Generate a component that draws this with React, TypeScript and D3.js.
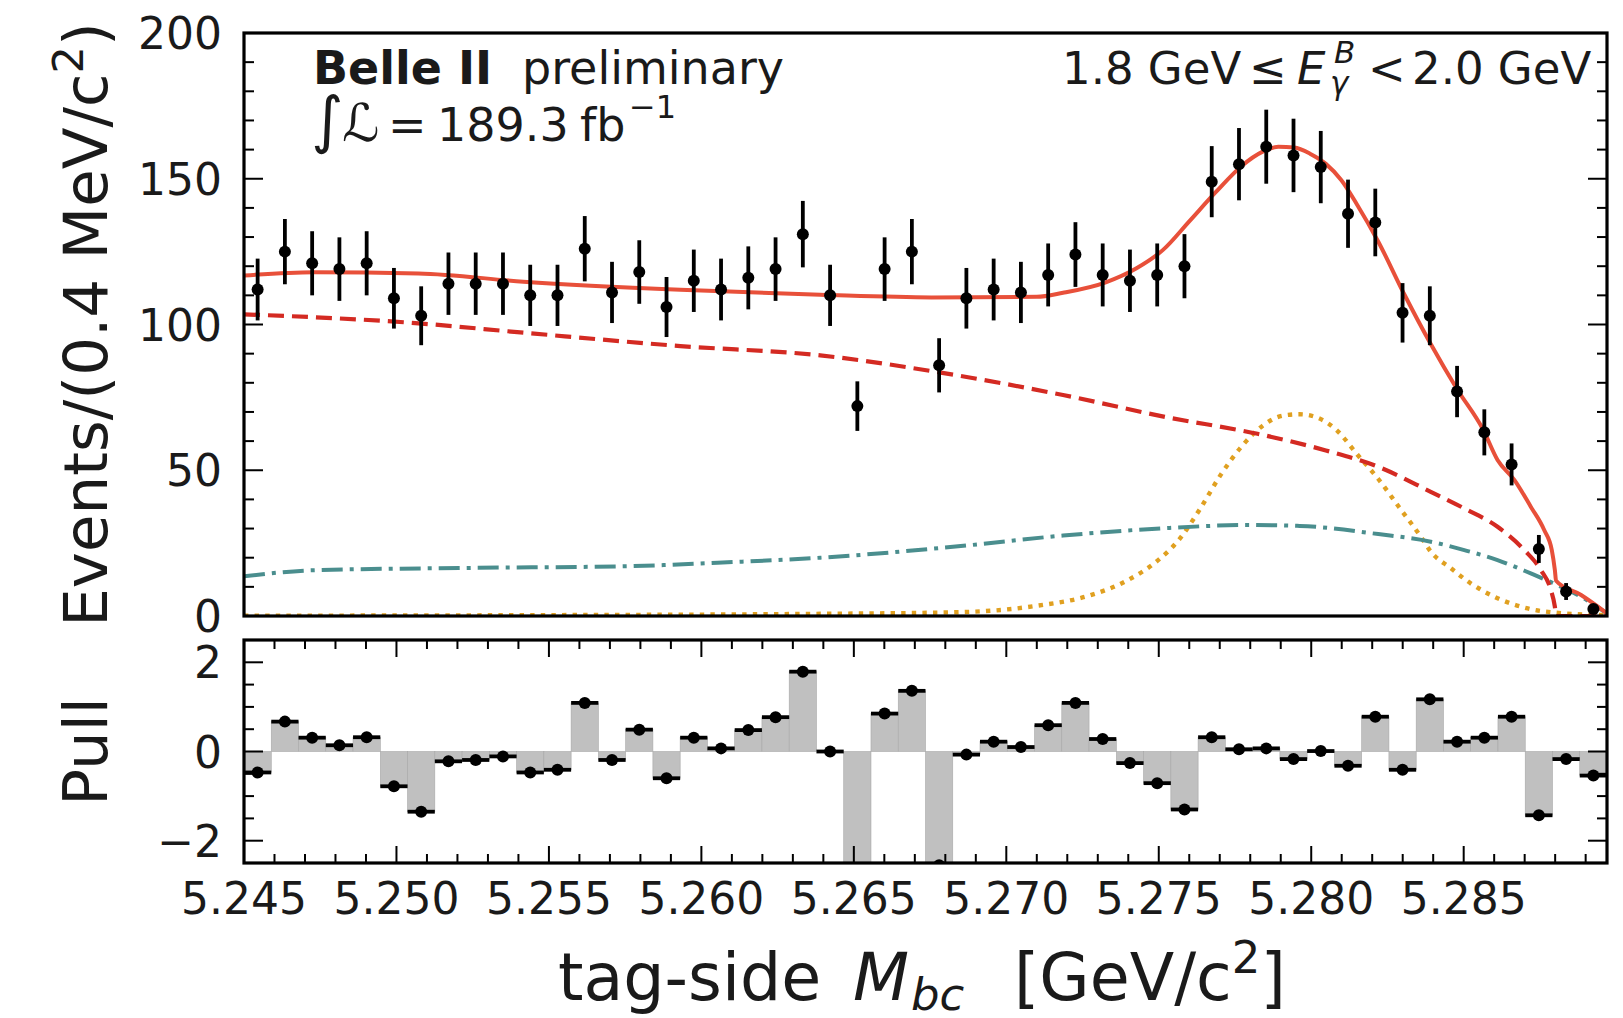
import React from 'react';
import * as d3 from 'd3';

// ---------------- data ----------------
const X_DOMAIN: [number, number] = [5.245, 5.2897];
const N_BINS = 50;

const counts = [
  112, 125, 121, 119, 121, 109, 103, 114, 114, 114,
  110, 110, 126, 111, 118, 106, 115, 112, 116, 119,
  131, 110, 72, 119, 125, 86, 109, 112, 111, 117,
  124, 117, 115, 117, 120, 149, 155, 161, 158, 154,
  138, 135, 104, 103, 77, 63, 52, 23, 8.4, 2.4,
];

const errors = [
  10.6, 11.2, 11.0, 10.9, 11.0, 10.4, 10.1, 10.7, 10.7, 10.7,
  10.5, 10.5, 11.2, 10.5, 10.9, 10.3, 10.7, 10.6, 10.8, 10.9,
  11.4, 10.5, 8.5, 10.9, 11.2, 9.3, 10.4, 10.6, 10.5, 10.8,
  11.1, 10.8, 10.7, 10.8, 11.0, 12.2, 12.4, 12.7, 12.6, 12.4,
  11.7, 11.6, 10.2, 10.1, 8.8, 7.9, 7.2, 4.8, 2.9, 1.5,
];

const pulls = [
  -0.47, 0.67, 0.31, 0.14, 0.32, -0.78, -1.35, -0.22, -0.19, -0.11,
  -0.47, -0.41, 1.09, -0.19, 0.49, -0.6, 0.31, 0.07, 0.48, 0.77,
  1.79, 0.0, -4.4, 0.85, 1.36, -2.55, -0.07, 0.22, 0.1, 0.59,
  1.09, 0.28, -0.26, -0.71, -1.3, 0.32, 0.05, 0.07, -0.17, 0.01,
  -0.32, 0.78, -0.41, 1.17, 0.22, 0.31, 0.78, -1.43, -0.17, -0.54,
];

// total fit (solid)
const totalX = [
  5.245, 5.24729, 5.25072, 5.25416, 5.25931, 5.2639, 5.26755, 5.271, 5.27186,
  5.27324, 5.27427, 5.27514, 5.276, 5.27686, 5.27772, 5.27841, 5.27892, 5.27944,
  5.27996, 5.28048, 5.28099, 5.28151, 5.2822, 5.28306, 5.28392, 5.28478, 5.28564,
  5.28611, 5.28666, 5.2872, 5.28764, 5.28789, 5.28799, 5.28803, 5.28885, 5.2897,
];
const totalY = [
  116.8, 117.9, 117.5, 114.7, 111.9, 110.2, 109.3, 109.5, 110.9,
  114.4, 119.3, 125.6, 135.4, 145.3, 154.4, 159.3, 161.0, 160.7,
  158.6, 155.1, 149.5, 141.0, 128.4, 110.2, 93.3, 77.9, 63.9,
  53.5, 46.7, 37.5, 29.5, 22.6, 15.8, 12.1, 7.2, 0.9,
];

// combinatorial background (dashed)
const bkgX = [
  5.245, 5.25072, 5.25416, 5.25931, 5.2639, 5.26785, 5.27186, 5.27531, 5.27824,
  5.28048, 5.2822, 5.28392, 5.28502, 5.28611, 5.28699, 5.28753, 5.28786, 5.28799,
  5.28803, 5.2897,
];
const bkgY = [
  103.5, 100.4, 97.2, 92.6, 89.4, 83.5, 75.8, 68.1, 62.5,
  56.8, 51.2, 42.6, 36.9, 30.6, 22.6, 15.8, 8.9, 3.2,
  0, 0,
];

// peaking background (dash-dot)
const peakBkgX = [
  5.245, 5.24729, 5.25244, 5.25759, 5.26102, 5.2639, 5.26842, 5.27186, 5.27531,
  5.27789, 5.27962, 5.2822, 5.28392, 5.28502, 5.28611, 5.2872, 5.28808, 5.28885,
  5.2897,
];
const peakBkgY = [
  13.6, 15.7, 16.5, 17.1, 18.5, 20.0, 23.9, 27.6, 30.2,
  31.2, 30.9, 28.1, 25.5, 22.6, 19.2, 14.6, 10.6, 6.6,
  0.9,
];

// signal (dotted)
const signalX = [
  5.245, 5.255, 5.26325, 5.26842, 5.271, 5.27272, 5.27393, 5.27496, 5.27565,
  5.27634, 5.27703, 5.27772, 5.27841, 5.2791, 5.27962, 5.28021, 5.28082, 5.28151,
  5.2822, 5.28289, 5.28358, 5.28392, 5.28458, 5.28523, 5.28611, 5.2871, 5.2883,
  5.2897,
];
const signalY = [
  0.1, 0.3, 0.7, 1.3, 3.5, 7.0, 12.0, 19.0, 26.0,
  36.5, 48.4, 58.2, 65.3, 68.8, 69.2, 68.0, 63.9, 55.4,
  47.0, 37.2, 27.4, 22.1, 16.4, 11.2, 6.1, 2.6, 0.9,
  0.3,
];

const xTickValues = [5.245, 5.25, 5.255, 5.26, 5.265, 5.27, 5.275, 5.28, 5.285];
const xTickLabels = ['5.245', '5.250', '5.255', '5.260', '5.265', '5.270', '5.275', '5.280', '5.285'];
const yMainTicks = [0, 50, 100, 150, 200];
const yMainLabels = ['0', '50', '100', '150', '200'];
const yPullTicks = [-2, 0, 2];
const yPullLabels = ['\u22122', '0', '2'];

// ---------------- styles ----------------
const FONT = 'DejaVu Sans, sans-serif';
const C_TOTAL = '#e8503a';
const C_BKG = '#d42a22';
const C_PEAK = '#4a8e8e';
const C_SIG = '#e0a020';
const C_PULL = '#c0c0c0';

export default function App() {
  const W = 1623;
  const H = 1018;
  const L = 244;
  const R = 1607;
  const T1 = 33;
  const B1 = 616;
  const T2 = 640;
  const B2 = 863;

  const x = d3.scaleLinear().domain(X_DOMAIN).range([L, R]);
  const y = d3.scaleLinear().domain([0, 200]).range([B1, T1]);
  const yp = d3.scaleLinear().domain([-2.5, 2.5]).range([B2, T2]);

  const binW = (X_DOMAIN[1] - X_DOMAIN[0]) / N_BINS;
  const centers = counts.map((_, i) => X_DOMAIN[0] + (i + 0.5) * binW);

  const mk = (xs: number[], ys: number[]) =>
    d3
      .line<number>()
      .x((_, i) => x(xs[i]))
      .y((_, i) => y(ys[i]))
      .curve(d3.curveMonotoneX)(xs) || '';

  const minorMainY = d3.range(0, 201, 10);
  const minorPullY = d3.range(-2.5, 2.51, 0.5);
  const minorPullX = d3.range(0, 45).map((i) => X_DOMAIN[0] + i * 0.001).filter((v) => v <= X_DOMAIN[1]);

  const tickW = 2;
  const majLen = 19;
  const minLen = 10;
  const TXT = '#1a1a1a';

  return (
    <svg
      width={W}
      height={H}
      style={{ position: 'absolute', left: 0, top: 0, display: 'block', background: '#fff' }}
      fontFamily={FONT}
    >
      <defs>
        <clipPath id="clipMain">
          <rect x={L} y={T1} width={R - L} height={B1 - T1} />
        </clipPath>
        <clipPath id="clipPull">
          <rect x={L} y={T2} width={R - L} height={B2 - T2} />
        </clipPath>
      </defs>
      <rect x={0} y={0} width={W} height={H} fill="#fff" />

      {/* ---------- main panel ---------- */}
      <g clipPath="url(#clipMain)">
        <path d={mk(signalX, signalY)} fill="none" stroke={C_SIG} strokeWidth={4.4} strokeDasharray="4.4 6.2" />
        <path d={mk(peakBkgX, peakBkgY)} fill="none" stroke={C_PEAK} strokeWidth={4} strokeDasharray="21 7 4 7" />
        <path d={mk(bkgX, bkgY)} fill="none" stroke={C_BKG} strokeWidth={4.2} strokeDasharray="16 8" />
        <path d={mk(totalX, totalY)} fill="none" stroke={C_TOTAL} strokeWidth={4} />
        {counts.map((c, i) => (
          <g key={i}>
            <line
              x1={x(centers[i])}
              x2={x(centers[i])}
              y1={y(c - errors[i])}
              y2={y(c + errors[i])}
              stroke="#000"
              strokeWidth={3.8}
            />
            <circle cx={x(centers[i])} cy={y(c)} r={6} fill="#000" />
          </g>
        ))}
      </g>

      {/* main y ticks */}
      {minorMainY.map((v) => {
        const major = v % 50 === 0;
        const len = major ? majLen : minLen;
        return (
          <g key={'my' + v}>
            <line x1={L} x2={L + len} y1={y(v)} y2={y(v)} stroke="#000" strokeWidth={tickW} />
            <line x1={R} x2={R - len} y1={y(v)} y2={y(v)} stroke="#000" strokeWidth={tickW} />
          </g>
        );
      })}
      {yMainTicks.map((v, i) => (
        <text key={'myl' + v} x={222} y={y(v) + 16} fontSize={44} textAnchor="end" fill={TXT}>
          {yMainLabels[i]}
        </text>
      ))}
      <rect x={L} y={T1} width={R - L} height={B1 - T1} fill="none" stroke="#000" strokeWidth={3.2} />

      {/* ---------- pull panel ---------- */}
      <g clipPath="url(#clipPull)">
        {pulls.map((p, i) => {
          const x0 = x(centers[i] - binW / 2);
          const x1 = x(centers[i] + binW / 2);
          return (
            <rect
              key={'pb' + i}
              x={x0}
              y={Math.min(yp(p), yp(0))}
              width={x1 - x0}
              height={Math.abs(yp(p) - yp(0))}
              fill={C_PULL}
              stroke="#a8a8a8"
              strokeWidth={0.6}
            />
          );
        })}
        {pulls.map((p, i) => {
          const x0 = x(centers[i] - binW / 2);
          const x1 = x(centers[i] + binW / 2);
          return (
            <g key={'pp' + i}>
              <line x1={x0} x2={x1} y1={yp(p)} y2={yp(p)} stroke="#000" strokeWidth={3.8} />
              <circle cx={x(centers[i])} cy={yp(p)} r={6} fill="#000" />
            </g>
          );
        })}
      </g>

      {/* pull y ticks */}
      {minorPullY.map((v) => {
        const major = Math.abs(v % 2) < 1e-9;
        const len = major ? majLen : minLen;
        return (
          <g key={'py' + v}>
            <line x1={L} x2={L + len} y1={yp(v)} y2={yp(v)} stroke="#000" strokeWidth={tickW} />
            <line x1={R} x2={R - len} y1={yp(v)} y2={yp(v)} stroke="#000" strokeWidth={tickW} />
          </g>
        );
      })}
      {/* pull x ticks */}
      {minorPullX.map((v, i) => {
        const major = i % 5 === 0;
        const len = major ? 17 : 9;
        return (
          <g key={'px' + i}>
            <line x1={x(v)} x2={x(v)} y1={T2} y2={T2 + len} stroke="#000" strokeWidth={tickW} />
            <line x1={x(v)} x2={x(v)} y1={B2} y2={B2 - len} stroke="#000" strokeWidth={tickW} />
          </g>
        );
      })}
      {yPullTicks.map((v, i) => (
        <text key={'pyl' + v} x={222} y={yp(v) + 16} fontSize={44} textAnchor="end" fill={TXT}>
          {yPullLabels[i]}
        </text>
      ))}
      {xTickValues.map((v, i) => (
        <text key={'pxl' + v} x={x(v)} y={914} fontSize={44} textAnchor="middle" fill={TXT}>
          {xTickLabels[i]}
        </text>
      ))}
      <rect x={L} y={T2} width={R - L} height={B2 - T2} fill="none" stroke="#000" strokeWidth={3.2} />

      {/* ---------- axis titles ---------- */}
      <text transform={`translate(107, ${(T1 + B1) / 2}) rotate(-90)`} fontSize={61} textAnchor="middle" fill={TXT}>
        <tspan>Events/(0.4 MeV/c</tspan>
        <tspan fontSize={43} dy={-24}>2</tspan>
        <tspan dy={24}>)</tspan>
      </text>
      <text transform={`translate(107, ${(T2 + B2) / 2}) rotate(-90)`} fontSize={61} textAnchor="middle" fill={TXT}>
        Pull
      </text>
      <text y={1000} fontSize={65} fill={TXT}>
        <tspan x={558}>tag-side</tspan>
        <tspan x={853} fontStyle="italic">M</tspan>
        <tspan x={911} dy={10} fontSize={45} fontStyle="italic">bc</tspan>
        <tspan x={1014} dy={-10}>[GeV/c</tspan>
        <tspan fontSize={45} dy={-27}>2</tspan>
        <tspan dy={27}>]</tspan>
      </text>

      {/* ---------- annotations ---------- */}
      <text y={84} fontSize={46} fill={TXT}>
        <tspan x={313} fontWeight="bold">Belle II</tspan>
        <tspan x={522}>preliminary</tspan>
      </text>
      <text y={141} fontSize={46} fill={TXT}>
        <tspan x={311} fontSize={62}>∫</tspan>
        <tspan x={342} fontSize={52} fontStyle="italic">ℒ</tspan>
        <tspan x={388}>=</tspan>
        <tspan x={437}>189.3</tspan>
        <tspan x={580}>fb</tspan>
        <tspan x={629} fontSize={32} dy={-23}>−1</tspan>
      </text>
      <text y={84} fontSize={45} fill={TXT}>
        <tspan x={1062}>1.8 GeV</tspan>
        <tspan x={1249}>≤</tspan>
        <tspan x={1297} fontStyle="italic">E</tspan>
        <tspan x={1334} dy={-21} fontSize={31} fontStyle="italic">B</tspan>
        <tspan x={1330} dy={31} fontSize={31} fontStyle="italic">γ</tspan>
        <tspan x={1368} dy={-10}>&lt;</tspan>
        <tspan x={1412}>2.0 GeV</tspan>
      </text>
    </svg>
  );
}
